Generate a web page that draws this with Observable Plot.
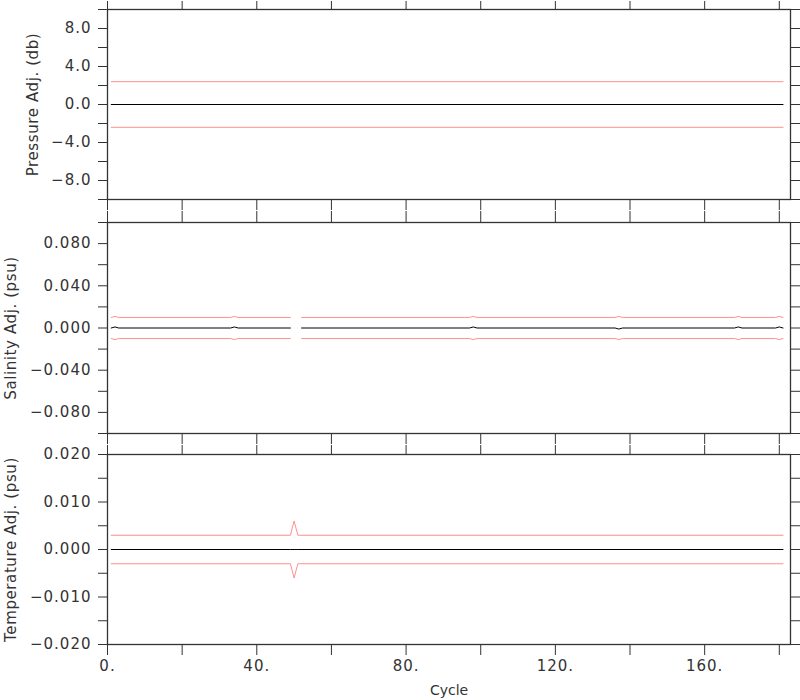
<!DOCTYPE html>
<html><head><meta charset="utf-8">
<script src="https://cdn.jsdelivr.net/npm/d3@7"></script>
<script src="https://cdn.jsdelivr.net/npm/@observablehq/plot@0.6"></script>
<style>body{margin:0;background:#fff} #chart svg{display:block}</style>
</head><body><div id="chart"></div>
<script>
// X axis
const xTicks = [0, 20, 40, 60, 80, 100, 120, 140, 160, 180];
const xTickLabelValues = [0, 40, 80, 120, 160];
const xTickLabels = ["0.", "40.", "80.", "120.", "160."];
const xLabel = "Cycle";

// Pressure panel
const presLabel = "Pressure Adj. (db)";
const presCycles = [1, 181];
const presAdj = [0, 0];
const presErr = [2.4, 2.4];
const presTicks = [-10, -8, -6, -4, -2, 0, 2, 4, 6, 8, 10];
const presLabelValues = [-8, -4, 0, 4, 8];
const presLabels = ["−8.0", "−4.0", "0.0", "4.0", "8.0"];

// Salinity panel (null = missing cycles 50-51)
const salLabel = "Salinity Adj. (psu)";
const salCycles = [1, 2, 3, 33, 34, 35, 49, 50, 52, 97, 98, 99, 136, 137, 138, 168, 169, 170, 179, 180, 181];
const salAdj = [0, 0.001, 0, 0, 0.001, 0, 0, null, 0, 0, 0.001, 0, 0, -0.001, 0, 0, 0.001, 0, 0, 0.001, 0];
const salErr = [0.01, 0.011, 0.01, 0.01, 0.011, 0.01, 0.01, null, 0.01, 0.01, 0.011, 0.01, 0.01, 0.011, 0.01, 0.01, 0.011, 0.01, 0.01, 0.011, 0.01];
const salTicks = [-0.1, -0.08, -0.06, -0.04, -0.02, 0, 0.02, 0.04, 0.06, 0.08, 0.1];
const salLabelValues = [-0.08, -0.04, 0, 0.04, 0.08];
const salLabels = ["−0.080", "−0.040", "0.000", "0.040", "0.080"];

// Temperature panel
const tempLabel = "Temperature Adj. (psu)";
const tempCycles = [1, 49, 50, 51, 181];
const tempAdj = [0, 0, 0, 0, 0];
const tempErr = [0.003, 0.003, 0.006, 0.003, 0.003];
const tempTicks = [-0.02, -0.015, -0.01, -0.005, 0, 0.005, 0.01, 0.015, 0.02];
const tempLabelValues = [-0.02, -0.01, 0, 0.01, 0.02];
const tempLabels = ["−0.020", "−0.010", "0.000", "0.010", "0.020"];

const xDomain = [0, 183];
const ink = "#333";
const red = "#ff8f8f";

function panel(o) {
  const data = o.cycles.map((c, i) => ({
    c, adj: o.adj[i],
    up: o.err[i] == null ? null : o.err[i],
    lo: o.err[i] == null ? null : -o.err[i]
  }));
  const yMap = new Map(o.labelValues.map((v, i) => [v, o.labels[i]]));
  const xMap = new Map(xTickLabelValues.map((v, i) => [v, xTickLabels[i]]));
  const marks = [
    Plot.line(data, {x: "c", y: "up", stroke: red, strokeWidth: 1}),
    Plot.line(data, {x: "c", y: "lo", stroke: red, strokeWidth: 1}),
    Plot.line(data, {x: "c", y: "adj", stroke: "#000", strokeWidth: 1}),
    Plot.axisY({anchor: "left", ticks: o.ticks, tickSize: 9, tickPadding: 7, fontSize: 15,
      tickFormat: v => yMap.get(v) ?? "", label: null, stroke: ink}),
    Plot.axisY({anchor: "right", ticks: o.ticks, tickSize: 10,
      tickFormat: () => "", label: null, stroke: ink}),
    Plot.axisX({anchor: "top", ticks: xTicks, tickSize: o.topTick,
      tickFormat: () => "", label: null, stroke: ink}),
    Plot.axisX({anchor: "bottom", ticks: xTicks, tickSize: o.bottomTick, tickPadding: 5, fontSize: 15,
      tickFormat: o.showX ? (v => xMap.get(v) ?? "") : (() => ""), label: null, stroke: ink}),
    Plot.frame({stroke: ink, strokeWidth: 1.3}),
    Plot.text([o.label], {frameAnchor: "left", rotate: -90, dx: o.labelDx,
      textAnchor: "middle", lineAnchor: "middle", fill: ink, fontSize: 15})
  ];
  if (o.showX) {
    marks.push(Plot.text([xLabel], {frameAnchor: "bottom", dy: 46, lineAnchor: "middle", fill: ink, fontSize: 14}));
  }
  const svg = Plot.plot({
    width: 800, height: o.height,
    marginLeft: 107, marginRight: 10, marginTop: o.mt, marginBottom: o.mb,
    style: {fontFamily: "DejaVu Sans", fontSize: "14px", color: ink, background: "#fff", overflow: "visible"},
    x: {domain: xDomain, label: null},
    y: {domain: o.domain, label: null},
    marks
  });
  d3.select(svg).selectAll('g[aria-label$="tick label"] text').style("letter-spacing", "1px");
  d3.select(svg).selectAll('g[aria-label="text"] text')
    .filter(function() { return this.textContent !== xLabel; })
    .style("letter-spacing", "0.6px");
  return svg;
}

const el = document.getElementById("chart");
el.append(panel({cycles: presCycles, adj: presAdj, err: presErr, domain: [-10, 10],
  ticks: presTicks, labelValues: presLabelValues, labels: presLabels, label: presLabel,
  labelDx: -74, height: 210, mt: 9, mb: 11, topTick: 9, bottomTick: 11, showX: false}));
el.append(panel({cycles: salCycles, adj: salAdj, err: salErr, domain: [-0.1, 0.1],
  ticks: salTicks, labelValues: salLabelValues, labels: salLabels, label: salLabel,
  labelDx: -96, height: 234, mt: 12, mb: 11, topTick: 12, bottomTick: 11, showX: false}));
el.append(panel({cycles: tempCycles, adj: tempAdj, err: tempErr, domain: [-0.02, 0.02],
  ticks: tempTicks, labelValues: tempLabelValues, labels: tempLabels, label: tempLabel,
  labelDx: -96, height: 256, mt: 10, mb: 56, topTick: 10, bottomTick: 11, showX: true}));
</script>
</body></html>
